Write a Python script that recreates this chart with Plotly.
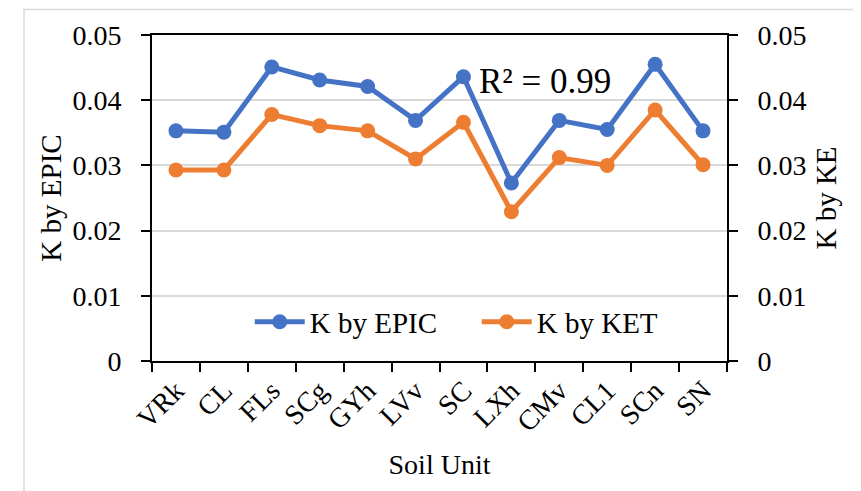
import plotly.graph_objects as go

soil_units = ["VRk", "CL", "FLs", "SCg", "GYh", "LVv", "SC", "LXh", "CMv", "CL1", "SCn", "SN"]
k_epic = [0.0353, 0.0351, 0.0451, 0.0431, 0.0421, 0.0369, 0.0436, 0.0273, 0.0369, 0.0355, 0.0455, 0.0353]
k_ket = [0.0293, 0.0293, 0.0378, 0.0361, 0.0353, 0.0310, 0.0366, 0.0229, 0.0312, 0.0300, 0.0385, 0.0301]
y_ticks = [0, 0.01, 0.02, 0.03, 0.04, 0.05]

FONT = "Liberation Serif, Times New Roman, serif"

fig = go.Figure()
fig.add_trace(go.Scatter(x=soil_units, y=k_epic, name="K by EPIC", mode="lines+markers",
                         line=dict(color="#4472C4", width=5), marker=dict(size=15, color="#4472C4")))
fig.add_trace(go.Scatter(x=soil_units, y=k_ket, name="K by KET", mode="lines+markers", yaxis="y2",
                         line=dict(color="#ED7D31", width=5), marker=dict(size=15, color="#ED7D31")))

yax = dict(range=[0, 0.05], tickvals=y_ticks, ticktext=[f"{v:g}" for v in y_ticks],
           ticks="outside", ticklen=9, tickwidth=2, tickcolor="black",
           showline=True, linecolor="black", linewidth=2,
           tickfont=dict(size=28, color="black"), ticklabelstandoff=14,
           zeroline=False)

# the page has an 8px body margin, so the figure is 8px smaller than the window
fig.update_layout(
    width=853, height=483,
    margin=dict(l=144, r=134, t=22, b=130),
    paper_bgcolor="white", plot_bgcolor="white",
    font=dict(family=FONT, color="black"),
    showlegend=True,
    legend=dict(orientation="h", x=0.17, xanchor="left", y=0.12, yanchor="middle",
                font=dict(size=29), bgcolor="rgba(0,0,0,0)", itemwidth=50,
                entrywidth=162, entrywidthmode="pixels"),
    xaxis=dict(type="category", tickson="boundaries", ticks="outside", ticklen=9, tickwidth=2,
               tickcolor="black", showline=True, mirror=True, linecolor="black", linewidth=2,
               tickangle=-45, tickfont=dict(size=28), showgrid=False,
               title=dict(text="Soil Unit", font=dict(size=28), standoff=18),
               range=[-0.5, 11.5]),
    yaxis=dict(**yax, showgrid=True, gridcolor="#d9d9d9", gridwidth=2,
               title=dict(text="K by EPIC", font=dict(size=29), standoff=2)),
    yaxis2=dict(**yax, overlaying="y", side="right", showgrid=False,
                title=dict(text="K by KE", font=dict(size=29), standoff=10)),
    annotations=[dict(text="R² = 0.99", xref="paper", yref="paper", x=0.683, y=0.858,
                      showarrow=False, font=dict(size=35), xanchor="center", yanchor="middle")],
    shapes=[dict(type="rect", xref="paper", yref="paper", x0=-0.2226, x1=1.5, y0=-1, y1=1.0785,
                 line=dict(color="#d9d9d9", width=1.5), layer="below")],
)

fig.write_html("out.html")
